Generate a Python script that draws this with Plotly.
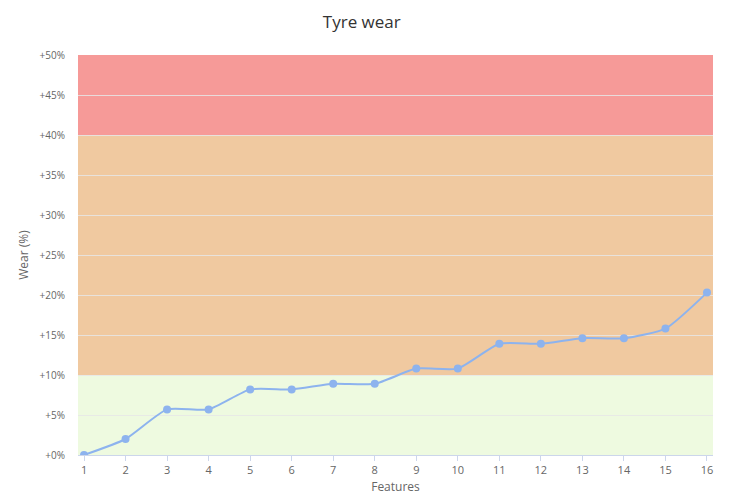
import plotly.graph_objects as go

features = list(range(1, 17))
wear = [0, 2.0, 5.7, 5.7, 8.2, 8.2, 8.9, 8.9, 10.8, 10.8, 13.9, 13.9, 14.6, 14.6, 15.8, 20.3]
bands = [(0, 10, "#eefae0"), (10, 40, "#f0c9a0"), (40, 50, "#f69a98")]
yticks = list(range(0, 55, 5))
ytick_text = [f"+{v}%" for v in yticks]

fig = go.Figure()
fig.add_trace(go.Scatter(
    x=features, y=wear, mode="lines+markers",
    line=dict(color="#8db3ee", width=2, shape="spline", smoothing=0.55),
    marker=dict(color="#8db3ee", size=8),
    hoverinfo="x+y", showlegend=False,
))
for lo, hi, col in bands:
    fig.add_shape(type="rect", xref="paper", x0=0, x1=1, yref="y", y0=lo, y1=hi,
                  fillcolor=col, line_width=0, layer="below")

fig.update_layout(
    width=722, height=490,
    margin=dict(l=70, r=17, t=47, b=43, autoexpand=False),
    paper_bgcolor="white", plot_bgcolor="white",
    font=dict(family="Open Sans, DejaVu Sans", color="#666666", size=11),
    title=dict(text="Tyre wear", x=0.49, xanchor="center", y=0.971, yanchor="middle",
               font=dict(size=17, color="#333333")),
    xaxis=dict(range=[1 - 0.145, 16 + 0.145], tickmode="array", tickvals=features,
               ticktext=[str(f) for f in features], showgrid=False, zeroline=False,
               showline=True, linecolor="#ccd6eb", linewidth=1, automargin=False,
               ticks="outside", tickcolor="#ccd6eb", ticklen=5,
               title=dict(text="Features", font=dict(size=12, color="#666666"), standoff=6),
               tickfont=dict(size=11, color="#666666")),
    yaxis=dict(range=[0, 50], tickmode="array", tickvals=yticks, ticktext=ytick_text,
               showgrid=True, gridcolor="rgba(230,230,230,0.85)", gridwidth=1, zeroline=False,
               automargin=False, ticklabelstandoff=12,
               title=dict(text="Wear (%)", font=dict(size=12, color="#666666"), standoff=8),
               tickfont=dict(size=10, color="#666666")),
)
fig.write_html("out.html")
